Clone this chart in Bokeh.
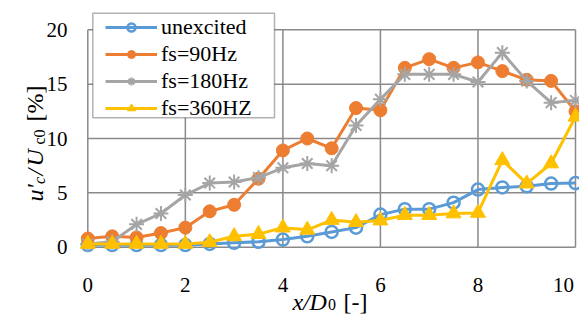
import math
from bokeh.plotting import figure
from bokeh.models import Range1d, Legend, LegendItem, Label, BoxAnnotation
from bokeh.embed import file_html
from bokeh.resources import INLINE

# ---- data ----
x_over_d0 = [0, 0.5, 1, 1.5, 2, 2.5, 3, 3.5, 4, 4.5, 5, 5.5, 6, 6.5, 7, 7.5, 8, 8.5, 9, 9.5, 10]
unexcited = [0.2, 0.2, 0.2, 0.2, 0.2, 0.3, 0.4, 0.5, 0.7, 1.0, 1.4, 1.8, 3.0, 3.5, 3.5, 4.1, 5.3, 5.5, 5.6, 5.85, 5.9]
fs_90hz = [0.8, 1.0, 0.9, 1.3, 1.8, 3.3, 3.9, 6.3, 8.9, 10.0, 9.1, 12.8, 12.6, 16.5, 17.3, 16.5, 17.0, 16.2, 15.4, 15.3, 12.5]
fs_180hz = [0.3, 0.5, 2.1, 3.1, 4.8, 5.9, 6.0, 6.4, 7.3, 7.7, 7.5, 11.2, 13.6, 15.9, 15.9, 15.9, 15.2, 17.9, 15.3, 13.3, 13.5]
fs_360hz = [0.3, 0.3, 0.3, 0.3, 0.3, 0.45, 1.0, 1.2, 1.8, 1.6, 2.5, 2.3, 2.45, 2.95, 2.95, 3.1, 3.15, 8.0, 5.85, 7.7, 12.0]
series_labels = ["unexcited", "fs=90Hz", "fs=180Hz", "fs=360HZ"]
x_ticks = [0, 2, 4, 6, 8, 10]
y_ticks = [0, 5, 10, 15, 20]
x_tick_labels = ["0", "2", "4", "6", "8", "10"]
y_tick_labels = ["0", "5", "10", "15", "20"]

FONT = "Liberation Serif"
GRID = "#8a8a8a"
W, H = 579, 316            # canvas size (fits the window with the 8px page margin)
# plot area on the canvas (pixels)
FL, FR, FT, FB = 87.3, 575.0, 29.3, 246.7
x0, x1 = x_ticks[0], x_ticks[-1]
y0, y1 = y_ticks[0], y_ticks[-1]
kx = (x1 - x0) / (FR - FL)
ky = (y1 - y0) / (FB - FT)

# the frame covers the whole canvas so that nothing (legend, titles) gets clipped
p = figure(width=W, height=H, output_backend="svg", toolbar_location=None,
           x_range=Range1d(x0 - FL * kx, x1 + (W - FR) * kx),
           y_range=Range1d(y0 - (H - FB) * ky, y1 + FT * ky),
           min_border=0, min_border_left=0, min_border_right=0,
           min_border_top=0, min_border_bottom=0)
p.axis.visible = False
p.grid.visible = False
p.outline_line_color = None
p.background_fill_color = "white"
p.border_fill_color = "white"


def dx(px):
    return x0 + (px - FL) * kx


def dy(py):
    return y0 + (FB - py) * ky


# grid lines at the ticks
p.segment(x0=x_ticks, y0=[y0] * len(x_ticks), x1=x_ticks, y1=[y1] * len(x_ticks),
          line_color=GRID, line_width=1.5)
p.segment(x0=[x0] * len(y_ticks), y0=y_ticks, x1=[x1] * len(y_ticks), y1=y_ticks,
          line_color=GRID, line_width=1.5)

# tick labels (the last one nudged left so it stays inside the visible area)
x_label_shift = [0, 0, 0, 0, 0, -12]
p.text(x=x_ticks, y=[dy(284.5)] * len(x_ticks), text=x_tick_labels,
       x_offset=x_label_shift,
       text_font={"value": FONT}, text_font_size="21px", text_color="black",
       text_align="center", text_baseline="alphabetic")
p.text(x=[dx(67)] * len(y_ticks), y=y_ticks, text=y_tick_labels,
       text_font={"value": FONT}, text_font_size="21px", text_color="black",
       text_align="right", text_baseline="middle")

colors = ["#5B9BD5", "#ED7D31", "#A5A5A5", "#FFC000"]
series = [unexcited, fs_90hz, fs_180hz, fs_360hz]
marker_styles = [
    dict(marker="circle", size=12, fill_alpha=0, line_width=2.5),
    dict(marker="circle", size=13, fill_alpha=1, line_width=1),
    dict(marker="asterisk", size=15, line_width=2),
    dict(marker="triangle", size=15, fill_alpha=1, line_width=1),
]

items = []
for ys, c, ms, lab in zip(series, colors, marker_styles, series_labels):
    rl = p.line(x_over_d0, ys, line_color=c, line_width=3)
    rm = p.scatter(x_over_d0, ys, line_color=c, fill_color=c, **ms)
    items.append(LegendItem(label=lab, renderers=[rl, rm]))

box = BoxAnnotation(left=dx(92.3), right=dx(274), bottom=dy(117.3), top=dy(12.7),
                    fill_color="white", fill_alpha=1,
                    line_color="black", line_width=1.5)
p.add_layout(box)

# legend position: glyphs start at x 105, legend bottom at y 121 (canvas pixels)
legend = Legend(items=items, location=(105, H - 121), padding=0, margin=0,
                spacing=1, glyph_width=52, glyph_height=20, label_height=20,
                label_standoff=4, label_text_font=FONT, label_text_font_size="22px",
                label_text_color="black",
                background_fill_alpha=0, border_line_color=None)
p.add_layout(legend)


def piece(txt, px, py, size, italic, angle=0.0):
    p.add_layout(Label(x=dx(px), y=dy(py), x_units="data", y_units="data",
                       text=txt, angle=angle, text_font=FONT, text_font_size=size,
                       text_font_style="italic" if italic else "normal",
                       text_color="black", text_align="left",
                       text_baseline="alphabetic"))


R = math.pi / 2
# y title: u'_c / U_c0 [%]
piece("u", 34, 201, "24px", True, R)
piece("'", 34, 189, "24px", True, R)
piece("c", 38.5, 183.5, "16px", True, R)
piece("/", 34, 175, "24px", True, R)
piece("U", 34, 166, "24px", True, R)
piece("c0", 38.5, 144, "16px", False, R)
piece("[%]", 34, 121, "24px", False, R)

# x title: x / D_0 [-]
piece("x", 292, 301, "24px", True)
piece("/", 302.5, 301, "24px", True)
piece("D", 309, 301, "24px", True)
piece("0", 327.5, 304, "16px", False)
piece("[-]", 343, 301, "24px", False)

open("out.html", "w").write(file_html(p, INLINE))
